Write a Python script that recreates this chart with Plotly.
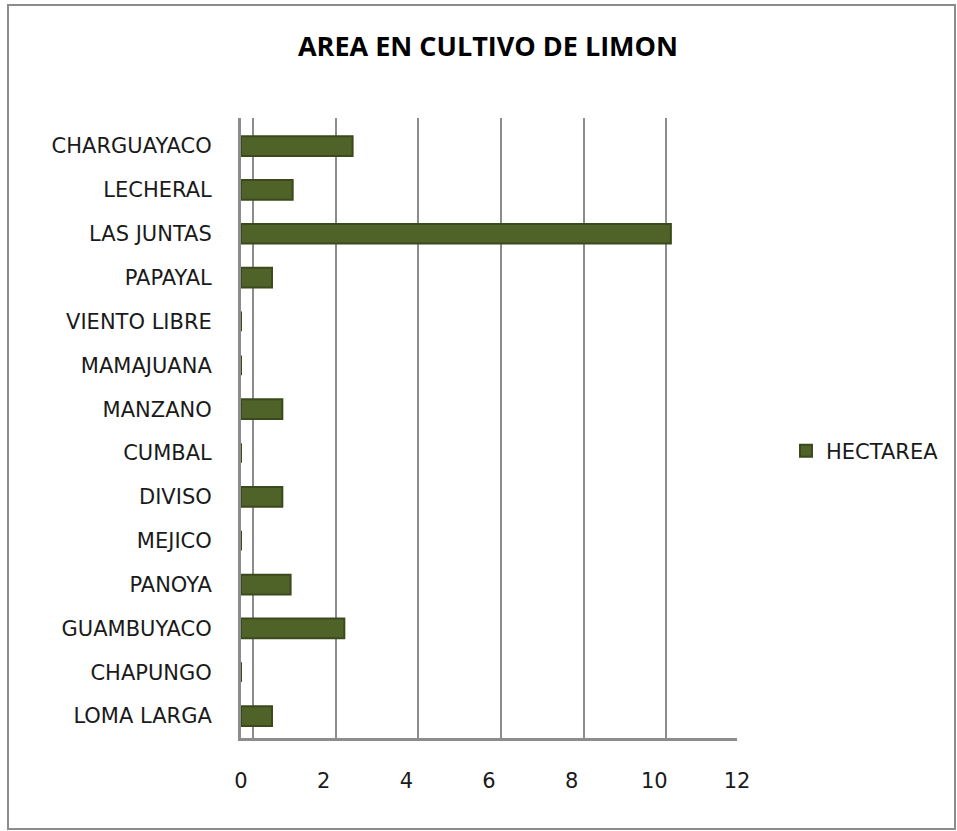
import plotly.graph_objects as go

categories = ["CHARGUAYACO", "LECHERAL", "LAS JUNTAS", "PAPAYAL", "VIENTO LIBRE",
              "MAMAJUANA", "MANZANO", "CUMBAL", "DIVISO", "MEJICO", "PANOYA",
              "GUAMBUYACO", "CHAPUNGO", "LOMA LARGA"]
hectarea = [2.7, 1.25, 10.4, 0.75, 0, 0, 1.0, 0, 1.0, 0, 1.2, 2.5, 0, 0.75]
x_ticks = [0, 2, 4, 6, 8, 10, 12]

W, H = 957, 831
L, R, T, B = 241, 220, 118, 93
pw, ph = W - L - R, H - T - B

def px_x(p):
    return (p - L) / pw

def px_y(p):
    return (H - B - p) / ph

LABEL_FONT = dict(family="DejaVu Sans", size=21, color="#1a1a1a")
unit_px = pw / 12.0
back_shift = 12 / unit_px  # back-wall gridlines sit ~12px right of the front labels

fig = go.Figure()
# invisible helper on the back-wall (grid) axis
fig.add_trace(go.Bar(
    y=categories, x=hectarea, orientation="h", xaxis="x", showlegend=False,
    marker=dict(color="rgba(0,0,0,0)", line=dict(width=0)), hoverinfo="skip",
    width=0.45,
))
fig.add_trace(go.Bar(
    y=categories, x=hectarea, orientation="h", name="HECTAREA", xaxis="x2",
    marker=dict(color="#4f6228", line=dict(color="#3b4a1d", width=2)),
    width=0.45,
))

fig.update_layout(
    width=W, height=H,
    margin=dict(l=L, r=R, t=T, b=B),
    paper_bgcolor="white", plot_bgcolor="white",
    font=LABEL_FONT,
    title=dict(text="<b>AREA EN CULTIVO DE LIMON</b>", x=px_x(488), xref="paper",
               xanchor="center", y=1 - 47 / H, yanchor="middle",
               font=dict(size=27, family="Open Sans", color="#000000")),
    xaxis=dict(range=[-back_shift, 12 - back_shift], tickvals=x_ticks,
               showticklabels=False, showgrid=True, gridcolor="#8c8c8c",
               gridwidth=2, zeroline=False, showline=False, ticks=""),
    xaxis2=dict(overlaying="x", side="bottom", range=[0, 12], tickvals=x_ticks,
                showgrid=False, zeroline=False, showline=True,
                linecolor="#8c8c8c", linewidth=3, ticks="",
                tickfont=LABEL_FONT, ticklabelstandoff=22),
    yaxis=dict(type="category", categoryorder="array", categoryarray=categories,
               range=[13.5, -0.64], showgrid=False, showline=True,
               linecolor="#8c8c8c", linewidth=3, ticks="", tickfont=LABEL_FONT,
               ticklabelstandoff=22),
    showlegend=True,
    legend=dict(x=px_x(786), y=px_y(451), xanchor="left", yanchor="middle",
                font=LABEL_FONT, bgcolor="rgba(0,0,0,0)", itemwidth=30,
                borderwidth=0),
    shapes=[dict(type="rect", xref="paper", yref="paper",
                 x0=px_x(8), x1=px_x(955), y0=px_y(5), y1=px_y(829),
                 line=dict(color="#8c8c8c", width=2), layer="below")],
)

fig.write_html("out.html", config={"displayModeBar": False},
               post_script="document.body.style.margin='0';")
